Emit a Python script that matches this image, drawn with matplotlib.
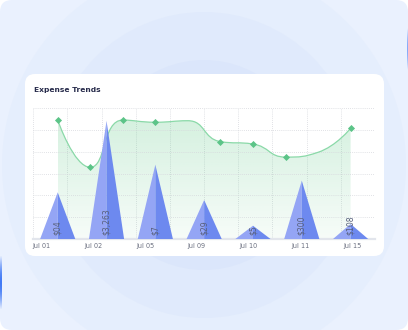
import numpy as np
import matplotlib
matplotlib.use("Agg")
import matplotlib.pyplot as plt
from matplotlib.patches import FancyBboxPatch, Circle, Polygon, PathPatch
from matplotlib.path import Path

# ---- data ----
dates = ["Jul 01", "Jul 02", "Jul 05", "Jul 09", "Jul 10", "Jul 11", "Jul 15"]
amount_labels = ["$04", "$3,263", "$7", "$29", "$5", "$300", "$108"]
spend = [21.4, 54.2, 34.1, 17.9, 6.1, 26.8, 6.9]
trend = [54.6, 32.9, 54.6, 53.6, 54.3, 44.7, 43.6, 37.6, 39.8, 50.8]

W, H = 408, 330
fig = plt.figure(figsize=(W / 100, H / 100), dpi=100)
fig.patch.set_facecolor("white")

# ---- backdrop: rounded panel with soft rings ----
bg = fig.add_axes([0, 0, 1, 1])
bg.set_xlim(0, W)
bg.set_ylim(H, 0)
bg.axis("off")
bg.add_patch(FancyBboxPatch((0, 0), W, H, boxstyle="round,pad=0,rounding_size=12",
                            fc="#eaf1fe", ec="none"))
for r, c in [(202, "#e5eefd"), (153, "#e0eafc"), (105, "#dbe6fb")]:
    bg.add_patch(Circle((204, 165), r, fc=c, ec="none"))

# thin blue edges peeking in at the sides
grad = np.zeros((60, 1, 4))
grad[..., :3] = matplotlib.colors.to_rgb("#2f6df5")
grad[:, 0, 3] = np.sin(np.linspace(0, np.pi, 60)) * 0.9
bg.imshow(grad, extent=(0, 1.8, 310, 255), aspect="auto", zorder=2)
bg.imshow(grad * [1, 1, 1, 0.6], extent=(406.5, 408, 70, 28), aspect="auto", zorder=2)

# white card
bg.add_patch(FancyBboxPatch((25, 74), 359, 182, boxstyle="round,pad=0,rounding_size=10",
                            fc="white", ec="none", zorder=3))

fig.text(33.5 / W, 1 - 90 / H, "Expense Trends", fontsize=5.4, fontweight="bold",
         color="#272b4b", va="center", ha="left")

# ---- chart ----
x0, x1, yt, yb = 33.3, 375, 108.3, 239
ax = fig.add_axes([x0 / W, 1 - yb / H, (x1 - x0) / W, (yb - yt) / H])
ax.set_facecolor("none")
ax.set_xlim(-0.5, 6.5)
ax.set_ylim(0, 60)
for s in ["top", "right", "left"]:
    ax.spines[s].set_visible(False)
ax.spines["bottom"].set_color("#e2e5ec")
ax.spines["bottom"].set_linewidth(1.6)
ax.set_yticks(range(0, 61, 10))
ax.set_yticklabels([])
ax.tick_params(length=0)
ax.grid(axis="y", linestyle=(0, (1, 1.5)), color="#d6d8dd", linewidth=0.6)
ax.vlines(np.linspace(-0.5, 6.5, 11), 0, 60, linestyles=(0, (1, 1.5)),
          colors="#d6d8dd", linewidth=0.6, zorder=0)

ax.set_xticks(np.linspace(-0.33, 6.03, 7))
ax.set_xticklabels(dates, fontsize=4.7, color="#6b7080")
ax.tick_params(axis="x", pad=3)

# smoothed trend curve: bezier control points clamped so the curve never
# overshoots a neighbouring point
lx = np.linspace(0, 6, len(trend))
pts = ax.transData.transform(np.column_stack([lx, trend]))
n = len(pts)
cp_in, cp_out = pts.copy(), pts.copy()
k = 0.5
for i in range(1, n - 1):
    p, c, nx = pts[i - 1], pts[i], pts[i + 1]
    v = nx - p
    d0 = np.hypot(*(c - p))
    d1 = np.hypot(*(nx - c))
    r = d1 / (d0 + d1)
    nxt = c + v * k * r
    nxt = np.minimum(nxt, np.maximum(nx, c))
    nxt = np.maximum(nxt, np.minimum(nx, c))
    v = nxt - c
    prv = c - v * d0 / d1
    prv = np.minimum(prv, np.maximum(p, c))
    prv = np.maximum(prv, np.minimum(p, c))
    v = c - prv
    cp_in[i] = prv
    cp_out[i] = c + v * d1 / d0
verts = [pts[0]]
codes = [Path.MOVETO]
for i in range(n - 1):
    verts += [cp_out[i], cp_in[i + 1], pts[i + 1]]
    codes += [Path.CURVE4] * 3
inv = ax.transData.inverted()
verts = inv.transform(np.array(verts))

curve = Path(verts, codes)
area = Path(np.vstack([verts, [[lx[-1], 0], [lx[0], 0], verts[0]]]),
            codes + [Path.LINETO, Path.LINETO, Path.CLOSEPOLY])
area_patch = PathPatch(area, fc="none", ec="none")
ax.add_patch(area_patch)

fill = np.zeros((100, 1, 4))
fill[..., :3] = matplotlib.colors.to_rgb("#52c47d")
fill[:, 0, 3] = np.linspace(0.26, 0.05, 100)
im = ax.imshow(fill, extent=(lx[0], lx[-1], 0, 60), aspect="auto", origin="upper", zorder=1)
im.set_clip_path(area_patch)
ax.set_xlim(-0.5, 6.5)
ax.set_ylim(0, 60)

ax.add_patch(PathPatch(curve, fc="none", ec="#8ad9a8", lw=0.9, zorder=2))
shown = [0, 1, 2, 3, 5, 6, 7, 9]
ax.scatter(lx[shown], np.array(trend)[shown], marker="D", s=13, color="#5cc488",
           zorder=4, linewidths=0)

# split-tone triangle bars
half = 0.36
for i, h in enumerate(spend):
    ax.add_patch(Polygon([(i - half, 0), (i, h), (i, 0)], closed=True,
                         fc="#94a5f5", ec="none", zorder=3))
    ax.add_patch(Polygon([(i, 0), (i, h), (i + half, 0)], closed=True,
                         fc="#6d89ef", ec="none", zorder=3))
    ax.text(i, 1.8, amount_labels[i], rotation=90, ha="center", va="bottom",
            fontsize=5.6, color="#58607c", zorder=5)

fig.savefig("out.png", dpi=100)
